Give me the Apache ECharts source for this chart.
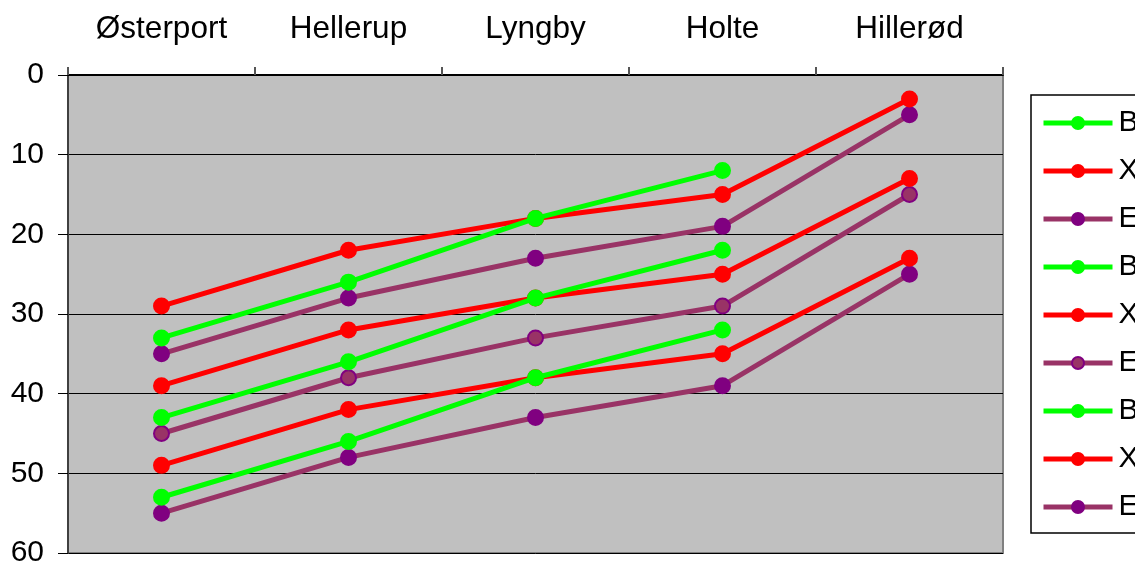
<!DOCTYPE html>
<html>
<head>
<meta charset="utf-8">
<script src="https://cdn.jsdelivr.net/npm/echarts@6/dist/echarts.min.js"></script>
<style>html,body{margin:0;padding:0;background:#fff;}#c{width:1135px;height:562px;}</style>
</head>
<body>
<div id="c"></div>
<script>
var categories = ['Østerport', 'Hellerup', 'Lyngby', 'Holte', 'Hillerød'];
var yTicks = [0, 10, 20, 30, 40, 50, 60];
var seriesNames = ['B', 'X', 'E', 'B ', 'X ', 'E ', 'B  ', 'X  ', 'E  '];
var b1 = [33, 26, 18, 12, null];
var x1 = [29, 22, 18, 15, 3];
var e1 = [35, 28, 23, 19, 5];
var b2 = [43, 36, 28, 22, null];
var x2 = [39, 32, 28, 25, 13];
var e2 = [45, 38, 33, 29, 15];
var b3 = [53, 46, 38, 32, null];
var x3 = [49, 42, 38, 35, 23];
var e3 = [55, 48, 43, 39, 25];

var values = [b1, x1, e1, b2, x2, e2, b3, x3, e3];
var lineColors = ['#00ff00', '#ff0000', '#993366', '#00ff00', '#ff0000', '#993366', '#00ff00', '#ff0000', '#993366'];
var markerFill = ['#00ff00', '#ff0000', '#800080', '#00ff00', '#ff0000', '#993366', '#00ff00', '#ff0000', '#800080'];
var markerBorder = ['#00ff00', '#ff0000', '#800080', '#00ff00', '#ff0000', '#800080', '#00ff00', '#ff0000', '#800080'];

var chart = echarts.init(document.getElementById('c'), null, {renderer: 'canvas'});
var series = values.map(function (v, i) {
  return {
    name: seriesNames[i],
    type: 'line',
    data: v,
    symbol: 'circle',
    symbolSize: 15,
    connectNulls: false,
    lineStyle: {color: lineColors[i], width: 5},
    itemStyle: {color: markerFill[i], borderColor: markerBorder[i], borderWidth: 2},
    emphasis: {disabled: true},
    z: 10 - i
  };
});

chart.setOption({
  animation: false,
  textStyle: {fontFamily: 'Liberation Sans, Arial, sans-serif'},
  grid: {
    left: 68, right: 132, top: 75, bottom: 9,
    outerBoundsMode: 'none',
    containLabel: false,
    show: true, backgroundColor: '#c0c0c0', borderColor: '#808080', borderWidth: 2
  },
  legend: {
    orient: 'vertical',
    left: 1031, top: 95,
    width: 200,
    padding: [13, 60, 11, 10],
    itemWidth: 69, itemHeight: 15,
    itemGap: 18,
    backgroundColor: '#ffffff',
    borderColor: '#000000',
    borderWidth: 1.5,
    borderRadius: 0,
    lineStyle: {width: 5},
    textStyle: {fontSize: 30, color: '#000', padding: [0, 0, 0, 1]},
    data: seriesNames
  },
  xAxis: {
    type: 'category',
    position: 'top',
    data: categories,
    boundaryGap: true,
    axisLine: {show: true, lineStyle: {color: '#000', width: 2}},
    axisTick: {show: true, inside: false, length: 8, lineStyle: {color: '#555', width: 2}},
    axisLabel: {fontSize: 31.5, color: '#000', margin: 30},
    splitLine: {show: false}
  },
  yAxis: {
    type: 'value',
    inverse: true,
    min: 0, max: 60, interval: 10,
    axisLine: {show: true, lineStyle: {color: '#404040', width: 2}},
    axisTick: {show: true, length: 10, lineStyle: {color: '#000', width: 1}},
    axisLabel: {fontSize: 30, color: '#000', margin: 24,
      formatter: function (v) { return yTicks.indexOf(v) >= 0 ? String(v) : ''; }},
    splitLine: {show: true, lineStyle: {color: '#000', width: 1}}
  },
  series: series
});
</script>
</body>
</html>
